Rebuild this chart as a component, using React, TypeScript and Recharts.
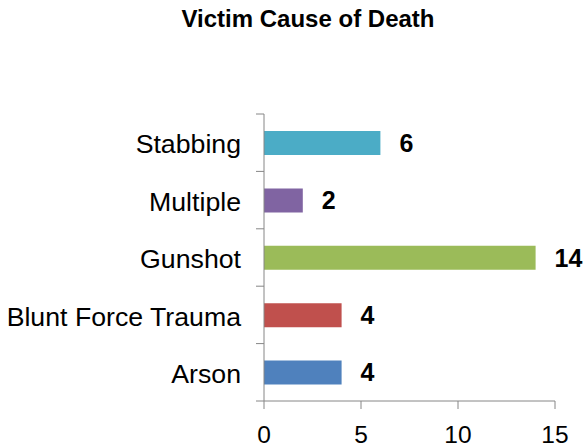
import React from 'react';
import { BarChart, Bar, XAxis, YAxis, Cell, LabelList } from 'recharts';

const categories = ['Stabbing', 'Multiple', 'Gunshot', 'Blunt Force Trauma', 'Arson'];
const counts = [6, 2, 14, 4, 4];
const colors = ['#4BACC6', '#8064A2', '#9BBB59', '#C0504D', '#4F81BD'];
const xTicks = [0, 5, 10, 15];
const title = 'Victim Cause of Death';

const data = categories.map((name, i) => ({ name, value: counts[i] }));

const FONT = '"Liberation Sans", Arial, sans-serif';
const AXIS_COLOR = '#868686';
const TICK_SIZE = 8;
const TICK_MARGIN = 15;

const CategoryTick = (props: any) => {
  const { x, y, payload, index } = props;
  const half = payload.offset || 0;
  const axisX = x + TICK_SIZE + TICK_MARGIN;
  return (
    <g>
      <line x1={axisX - TICK_SIZE} x2={axisX} y1={y - half} y2={y - half} stroke={AXIS_COLOR} strokeWidth={1} />
      {index === categories.length - 1 && (
        <line x1={axisX - TICK_SIZE} x2={axisX} y1={y + half} y2={y + half} stroke={AXIS_COLOR} strokeWidth={1} />
      )}
      <text x={x} y={y} dy="0.4em" textAnchor="end" fill="#000" fontSize={26.7} fontFamily={FONT}>
        {payload.value}
      </text>
    </g>
  );
};

export default function App() {
  return (
    <div style={{ position: 'absolute', left: 0, top: 0, width: 583, height: 448, background: '#fff' }}>
      <div
        style={{
          position: 'absolute',
          left: 0,
          top: 5,
          width: 616,
          textAlign: 'center',
          fontFamily: FONT,
          fontWeight: 'bold',
          fontSize: 24,
          color: '#000',
        }}
      >
        {title}
      </div>
      <BarChart
        width={583}
        height={448}
        data={data}
        layout="vertical"
        margin={{ top: 114, right: 28, bottom: 0, left: 0 }}
      >
        <XAxis
          type="number"
          domain={[0, 15]}
          ticks={xTicks}
          interval={0}
          axisLine={{ stroke: AXIS_COLOR }}
          tickLine={{ stroke: AXIS_COLOR }}
          tickSize={8}
          tickMargin={17}
          height={47}
          tick={{ fill: '#000', fontSize: 24.5, fontFamily: FONT }}
        />
        <YAxis
          type="category"
          dataKey="name"
          width={264}
          axisLine={{ stroke: AXIS_COLOR }}
          tickLine={false}
          tickSize={TICK_SIZE}
          tickMargin={TICK_MARGIN}
          interval={0}
          tick={<CategoryTick />}
        />
        <Bar dataKey="value" barSize={24} isAnimationActive={false}>
          {data.map((d, i) => (
            <Cell key={d.name} fill={colors[i]} />
          ))}
          <LabelList
            dataKey="value"
            position="right"
            offset={19}
            fill="#000"
            fontSize={25}
            fontWeight="bold"
            fontFamily={FONT}
          />
        </Bar>
      </BarChart>
    </div>
  );
}
